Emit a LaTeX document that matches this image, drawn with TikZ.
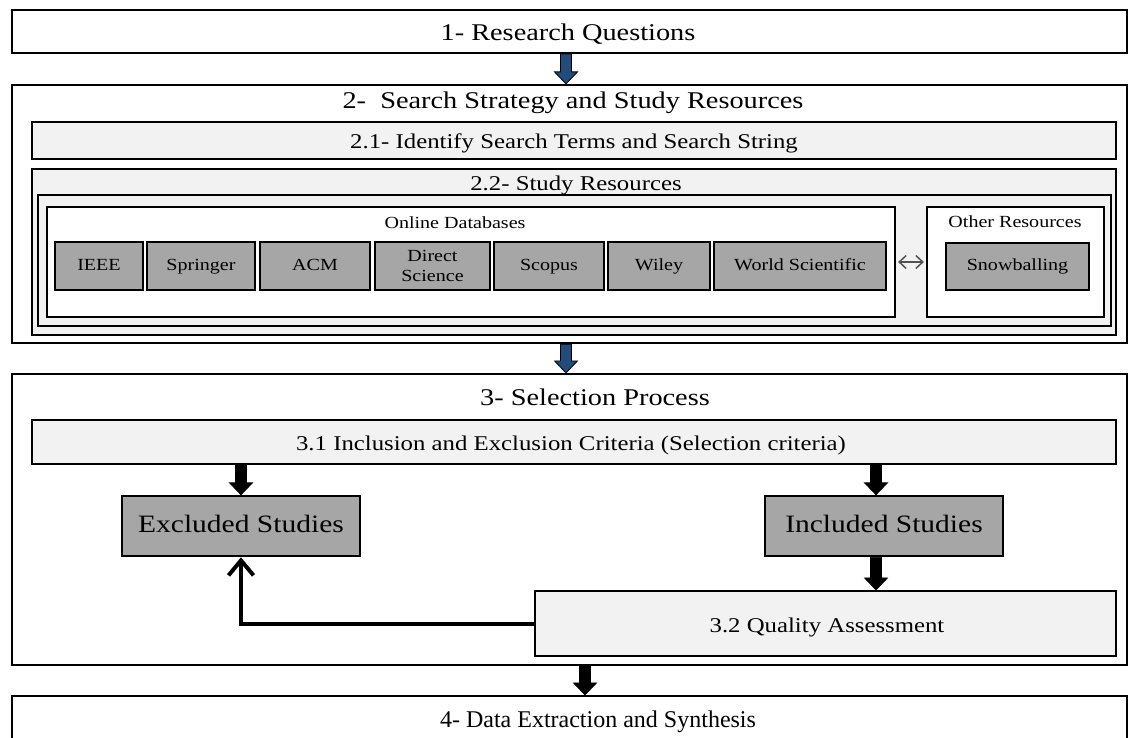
\documentclass[tikz,border=0pt]{standalone}
\usepackage{fontspec}
\setmainfont{Liberation Serif}[FakeStretch=1.18]
\newfontfamily\plainserif{Liberation Serif}
\usetikzlibrary{arrows.meta,calc}
\definecolor{pale}{HTML}{F2F2F2}
\definecolor{mid}{HTML}{A6A6A6}
\definecolor{navy}{RGB}{34,76,124}
\newcommand\fsz[2]{\fontsize{#1}{#2}\selectfont}
\tikzset{
  frame/.style={draw=black, line width=2.2pt, rectangle, inner sep=0pt},
  plainbox/.style={frame, fill=white},
  palebox/.style={frame, fill=pale},
  greybox/.style={frame, fill=mid, align=center, line width=2.5pt},
  dbbase/.style={greybox, font=\fsz{17}{20}},
  dbbox/.style={dbbase, text height=11.5pt, text depth=3.5pt},
  headtxt/.style={inner sep=0pt, font=\fsz{24}{26}},
  subtxt/.style={inner sep=0pt, font=\fsz{21}{23}},
  smalltxt/.style={inner sep=0pt, font=\fsz{17}{19}},
  studytxt/.style={font=\fsz{25}{27}, text height=17pt, text depth=5pt},
  loop/.style={line width=4pt, -{Straight Barb[length=15pt,width=25pt,line width=4pt]}},
  twoway/.style={draw=gray!65!black, line width=1.5pt,
    {Straight Barb[length=7pt,width=13pt]}-{Straight Barb[length=7pt,width=13pt]}}
}
% vertical block arrow: [fill] x-coordinate, source node, target node
\newcommand\blockarrow[4][black]{%
  \path (#2 |- #3.south) coordinate (ba-top) (#2 |- #4.north) coordinate (ba-tip);
  \draw[line width=0.8pt, fill=#1, line join=miter]
    ($(ba-top)+(-5.5,0)$) -- ($(ba-tip)+(-5.5,-12)$) -- ($(ba-tip)+(-11.5,-12)$)
    -- (ba-tip) -- ($(ba-tip)+(11.5,-12)$) -- ($(ba-tip)+(5.5,-12)$)
    -- ($(ba-top)+(5.5,0)$) -- cycle;}
\begin{document}
\begin{tikzpicture}[x=1pt,y=-1pt]
\useasboundingbox (0,0) rectangle (1132,738);
\clip (0,0) rectangle (1132,738);

% 1
\node[plainbox, minimum width=1115pt, minimum height=43pt] (rq) at (569.5,31.5) {};
\node[headtxt] (rqt) at (568,34) {1- Research Questions};

% 2
\node[plainbox, minimum width=1115pt, minimum height=258pt] (ss) at (569.5,214) {};
\node[headtxt] (sst) at (573,103) {2-\ \ Search Strategy and Study Resources};
\node[palebox, minimum width=1084pt, minimum height=37pt] (terms) at (574,140.5) {};
\node[subtxt] (termst) at (574,143) {2.1- Identify Search Terms and Search String};
\node[palebox, minimum width=1084pt, minimum height=166pt] (res) at (574,252) {};
\node[subtxt] (rest) at (576,185) {2.2- Study Resources};
\node[palebox, minimum width=1073pt, minimum height=131pt] (resin) at (574.5,260.5) {};

\node[plainbox, minimum width=848pt, minimum height=110pt] (odb) at (471,262) {};
\node[smalltxt] (odbt) at (455,223) {Online Databases};
\node[dbbox, minimum width=88pt, minimum height=48pt] (ieee) at (99,266) {IEEE};
\node[dbbox, minimum width=108pt, minimum height=48pt] (spr) at (201,266) {Springer};
\node[dbbox, minimum width=110pt, minimum height=48pt] (acm) at (315,266) {ACM};
\node[dbbase, minimum width=115pt, minimum height=48pt] (ds) at (432.5,266) {Direct\\Science};
\node[dbbox, minimum width=110pt, minimum height=48pt] (sco) at (549,266) {Scopus};
\node[dbbox, minimum width=102pt, minimum height=48pt] (wil) at (659,266) {Wiley};
\node[dbbox, minimum width=172pt, minimum height=48pt] (ws) at (800,266) {World Scientific};

\node[plainbox, minimum width=177pt, minimum height=110pt] (oth) at (1015.5,262) {};
\node[smalltxt] (otht) at (1015,222) {Other Resources};
\node[dbbox, minimum width=143pt, minimum height=47pt] (snow) at (1017.5,266.5) {Snowballing};
\draw[twoway] ($(odb.east)+(2,0)$) -- ($(oth.west)+(-2,0)$);

% 3
\node[plainbox, minimum width=1115pt, minimum height=291pt] (sel) at (569.5,519.5) {};
\node[headtxt] (selt) at (595,397) {3- Selection Process};
\node[palebox, minimum width=1084pt, minimum height=44pt] (crit) at (574,442) {};
\node[subtxt] (critt) at (571,445) {3.1 Inclusion and Exclusion Criteria (Selection criteria)};
\node[greybox, studytxt, minimum width=238pt, minimum height=60pt] (exc) at (241,526) {Excluded Studies};
\node[greybox, studytxt, minimum width=238pt, minimum height=60pt] (inc) at (884,526) {Included Studies};
\node[palebox, minimum width=581pt, minimum height=65pt] (qa) at (825.5,623.5) {};
\node[subtxt] (qat) at (827,627) {3.2 Quality Assessment};

% 4
\node[plainbox, minimum width=1115pt, minimum height=90pt] (ext) at (569.5,741) {};
\node[headtxt, font=\plainserif\fsz{24}{26}] (extt) at (598,722) {4- Data Extraction and Synthesis};

% arrows
\coordinate (xa) at (566,0);
\coordinate (xb) at (241,0);
\coordinate (xc) at (876,0);
\coordinate (xd) at (585,0);
\blockarrow[navy]{xa}{rq}{ss}
\blockarrow[navy]{xa}{ss}{sel}
\blockarrow{xb}{crit}{exc}
\blockarrow{xc}{crit}{inc}
\blockarrow{xc}{inc}{qa}
\blockarrow{xd}{sel}{ext}
\draw[loop] (qa.west) -| (exc.south);
\end{tikzpicture}
\end{document}
